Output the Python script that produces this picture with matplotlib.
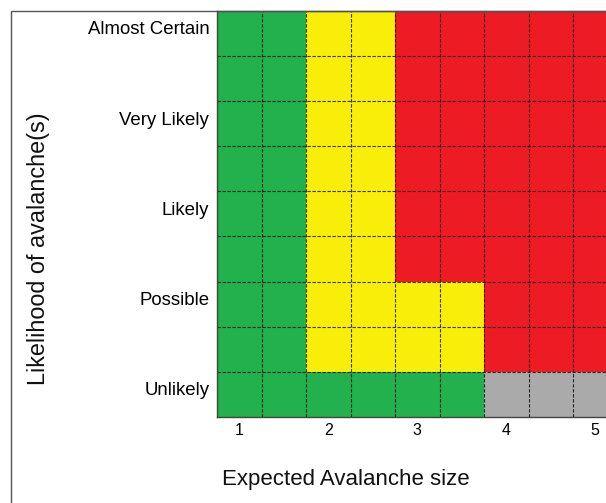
import matplotlib
matplotlib.use("Agg")
import matplotlib.pyplot as plt
import numpy as np
from matplotlib.colors import ListedColormap
from matplotlib.patches import Rectangle
from matplotlib.transforms import ScaledTranslation

plt.rcParams['font.family'] = ['Liberation Sans', 'DejaVu Sans']

# Axis labels
size_ticks = [1, 2, 3, 4, 5]
likelihood_ticks = [1, 2, 3, 4, 5]
likelihood_labels = ['Unlikely', 'Possible', 'Likely', 'Very Likely', 'Almost Certain']

# Risk class for each half-step cell (rows bottom -> top)
# 0 = green, 1 = yellow, 2 = red, 3 = grey
risk_grid = [
    [0, 0, 0, 0, 0, 0, 3, 3, 3],   # Unlikely
    [0, 0, 1, 1, 1, 1, 2, 2, 2],
    [0, 0, 1, 1, 1, 1, 2, 2, 2],   # Possible
    [0, 0, 1, 1, 2, 2, 2, 2, 2],
    [0, 0, 1, 1, 2, 2, 2, 2, 2],   # Likely
    [0, 0, 1, 1, 2, 2, 2, 2, 2],
    [0, 0, 1, 1, 2, 2, 2, 2, 2],   # Very Likely
    [0, 0, 1, 1, 2, 2, 2, 2, 2],
    [0, 0, 1, 1, 2, 2, 2, 2, 2],   # Almost Certain
]
risk_colors = ['#22B14C', '#F9EE0A', '#ED1C24', '#AAAAAA']

W, H = 606, 503
fig = plt.figure(figsize=(W / 100, H / 100), dpi=100)

# grid occupies px 217..617 horizontally, 10.7..417 vertically
left, top, bottom = 217 / W, 1 - 10.7 / H, 1 - 417 / H
ax = fig.add_axes([left, bottom, 400.5 / W, top - bottom])

grid = np.array(risk_grid)
nrows, ncols = grid.shape
x_edges = np.linspace(0.75, 5.25, ncols + 1)
y_edges = np.linspace(0.75, 5.25, nrows + 1)
ax.pcolormesh(x_edges, y_edges, grid, cmap=ListedColormap(risk_colors),
              vmin=-0.5, vmax=3.5)

for xe in x_edges[1:-1]:
    ax.axvline(xe, color='#111111', lw=0.8, ls=(0, (3, 1.5)), alpha=0.85)
for ye in y_edges[1:-1]:
    ax.axhline(ye, color='#111111', lw=0.8, ls=(0, (3, 1.5)), alpha=0.85)

ax.set_xlim(x_edges[0], x_edges[-1])
ax.set_ylim(y_edges[0], y_edges[-1])

ax.set_xticks(size_ticks)
ax.set_xticklabels([str(s) for s in size_ticks], fontsize=11.5)
ax.set_yticks(likelihood_ticks)
ax.set_yticklabels(likelihood_labels, fontsize=13.4)
ax.tick_params(axis='both', length=0)
ax.tick_params(axis='x', pad=4)
ax.tick_params(axis='y', pad=5.5)
for lab in ax.get_yticklabels():
    lab.set_transform(lab.get_transform() + ScaledTranslation(0, 4 / 72, fig.dpi_scale_trans))

for side in ['left', 'top', 'bottom']:
    ax.spines[side].set_color('#444444')
    ax.spines[side].set_linewidth(1.0)
ax.spines['right'].set_visible(False)

# outer frame (only left and top edges fall inside the image)
frame = Rectangle((10.7 / W, -0.1), 1.2, (1 - 10.7 / H) + 0.1, transform=fig.transFigure,
                  fill=False, edgecolor='#555555', lw=1.0)
fig.add_artist(frame)

fig.text(346 / W, 1 - 480 / H, 'Expected Avalanche size', ha='center', va='center',
         fontsize=16, color='#111111')
fig.text(39 / W, 1 - 249 / H, 'Likelihood of avalanche(s)', ha='center', va='center',
         rotation=90, fontsize=16.8, color='#111111')

fig.savefig('out.png', dpi=100)
